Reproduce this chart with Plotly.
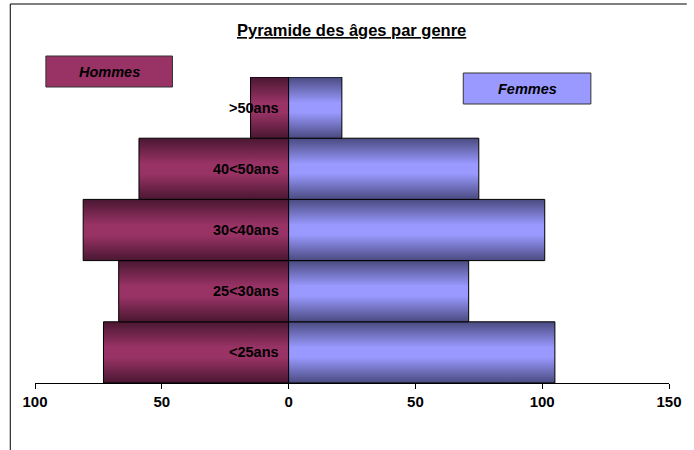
import plotly.graph_objects as go

# Age groups (bottom to top) and head counts per gender
categories = ["<25ans", "25<30ans", "30<40ans", "40<50ans", ">50ans"]
hommes = [73, 67, 81, 59, 15]
femmes = [105, 71, 101, 75, 21]
tick_values = [-100, -50, 0, 50, 100, 150]
tick_labels = ["100", "50", "0", "50", "100", "150"]

FONT = "Liberation Sans, Arial, sans-serif"
W, H = 694, 450
ML, MR, MT, MB = 35, 18, 77, 67
PW, PH = W - ML - MR, H - MT - MB

MAROON, MAROON_DARK = "#993366", "#4a1731"
LILAC, LILAC_DARK = "#9999ff", "#4a4a80"


def px_x(px):
    return (px - ML) / PW


def px_y(py):
    return (H - MB - py) / PH


def shaded(light, dark):
    return [[0.0, dark], [0.42, light], [0.58, light], [1.0, dark]]


fig = go.Figure()

# each bar is a filled rectangle spanning its age band, shaded top-to-bottom
for i, cat in enumerate(categories):
    for value, light, dark in ((-hommes[i], MAROON, MAROON_DARK),
                               (femmes[i], LILAC, LILAC_DARK)):
        fig.add_trace(go.Scatter(
            x=[0, value, value, 0, 0],
            y=[i, i, i + 1, i + 1, i],
            mode="lines",
            fill="toself",
            line=dict(color="#000000", width=1),
            fillgradient=dict(type="vertical", start=i, stop=i + 1,
                              colorscale=shaded(light, dark)),
            hoverinfo="skip",
            showlegend=False,
        ))

annotations = []
# age group labels just left of the zero axis
for i, cat in enumerate(categories):
    annotations.append(dict(
        x=0, y=i + 0.5, xref="x", yref="y", text=f"<b>{cat}</b>",
        xanchor="right", yanchor="middle", xshift=-8, showarrow=False,
        font=dict(family=FONT, size=14.5, color="#000000"),
    ))

# title
annotations.append(dict(
    x=px_x(355), y=px_y(30), xref="paper", yref="paper",
    text="<b><u>Pyramide des âges par genre</u></b>",
    xanchor="center", yanchor="middle", showarrow=False,
    font=dict(family=FONT, size=16.5, color="#000000"),
))

# outer frame: only its top and left edges fall inside the page
shapes = [
    dict(type="line", xref="paper", yref="paper",
         x0=px_x(10), x1=px_x(W), y0=px_y(4), y1=px_y(4),
         line=dict(color="#000000", width=1), layer="below"),
    dict(type="line", xref="paper", yref="paper",
         x0=px_x(10), x1=px_x(10), y0=px_y(4), y1=px_y(H),
         line=dict(color="#000000", width=1), layer="below"),
]

# legend boxes
for name, color, (x0, y0, x1, y1) in (("Hommes", MAROON, (46, 56, 174, 87)),
                                      ("Femmes", LILAC, (468, 73, 597, 104))):
    shapes.append(dict(type="rect", xref="paper", yref="paper",
                       x0=px_x(x0), x1=px_x(x1), y0=px_y(y1), y1=px_y(y0),
                       line=dict(color="#333333", width=1), fillcolor=color))
    annotations.append(dict(
        x=px_x((x0 + x1) / 2), y=px_y((y0 + y1) / 2), xref="paper", yref="paper",
        text=f"<b><i>{name}</i></b>", xanchor="center", yanchor="middle",
        showarrow=False, font=dict(family=FONT, size=14.5, color="#000000"),
    ))

fig.update_layout(
    width=W, height=H, autosize=False,
    margin=dict(l=ML, r=MR, t=MT, b=MB),
    paper_bgcolor="#ffffff", plot_bgcolor="#ffffff",
    showlegend=False,
    annotations=annotations,
    shapes=shapes,
    xaxis=dict(
        range=[-100, 150], tickvals=tick_values, ticktext=tick_labels,
        showgrid=False, zeroline=False,
        showline=True, linecolor="#000000", linewidth=1,
        ticks="outside", ticklen=5, tickcolor="#000000", tickwidth=1,
        tickfont=dict(family=FONT, size=15, color="#000000", weight="bold"),
        fixedrange=True,
    ),
    yaxis=dict(
        range=[0, 5], showticklabels=False, showgrid=False,
        zeroline=False, showline=False, ticks="", fixedrange=True,
    ),
)

fig.write_html("out.html", config={"displayModeBar": False})
